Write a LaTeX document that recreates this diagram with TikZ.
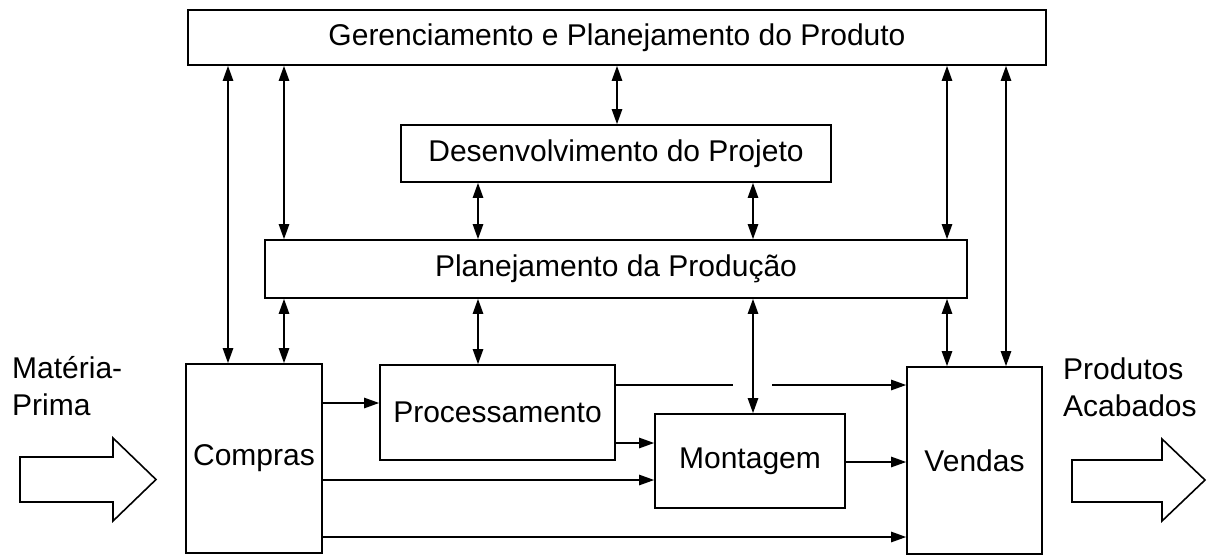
\documentclass[tikz,border=0pt]{standalone}
\usepackage{fontspec}
\setmainfont{Liberation Sans}
\usetikzlibrary{arrows.meta}
\begin{document}
\begin{tikzpicture}[x=1pt,y=-1pt,
  box/.style={draw,line width=1.8pt,inner sep=0pt,font=\fontsize{30}{37}\selectfont},
  link/.style={line width=1.2pt},
  dbl/.style={link,{Triangle[length=15pt,width=10.5pt]}-{Triangle[length=15pt,width=10.5pt]}},
  fwd/.style={link,-{Triangle[length=15pt,width=10.5pt]}},
  lbl/.style={font=\fontsize{30}{37}\selectfont,align=left,inner sep=0pt,anchor=west},
  bigarrow/.style={draw,line width=1.6pt,line join=miter}]
\useasboundingbox (0,0) rectangle (1207,555);
% boxes
\node[box,minimum width=858pt,minimum height=55pt] (top) at (617,37.5) {Gerenciamento e Planejamento do Produto};
\node[box,minimum width=430pt,minimum height=57pt] (des) at (616,153.5) {Desenvolvimento do Projeto};
\node[box,minimum width=702pt,minimum height=58pt] (plan) at (616,269) {Planejamento da Produção};
\node[box,minimum width=136pt,minimum height=189pt] (comp) at (254,458.5) {Compras};
\node[box,minimum width=235pt,minimum height=95pt] (proc) at (497.5,412.5) {Processamento};
\node[box,minimum width=190pt,minimum height=94pt] (mont) at (750,461) {Montagem};
\node[box,minimum width=135pt,minimum height=187pt] (vend) at (974.5,460.5) {Vendas};
% labels
\node[lbl] (mp) at (12,386) {Matéria-\\Prima};
\node[lbl] (pa) at (1063,387) {Produtos\\Acabados};
% x positions of vertical links
\coordinate (c1) at (228,0);
\coordinate (c2) at (284,0);
\coordinate (c3) at (617,0);
\coordinate (c4) at (478,0);
\coordinate (c5) at (753,0);
\coordinate (c7) at (947,0);
\coordinate (c8) at (1006,0);
% y positions of horizontal links
\coordinate (h1) at (0,403);
\coordinate (h2) at (0,443);
\coordinate (h3) at (0,480);
\coordinate (h4) at (0,385);
\coordinate (h5) at (0,462);
\coordinate (h6) at (0,537);
\coordinate (gapL) at (733,385);
\coordinate (gapR) at (772,385);
% vertical links
\draw[dbl] (top.south -| c1) -- (comp.north -| c1);
\draw[dbl] (top.south -| c2) -- (plan.north -| c2);
\draw[dbl] (plan.south -| c2) -- (comp.north -| c2);
\draw[dbl] (top.south -| c3) -- (des.north -| c3);
\draw[dbl] (des.south -| c4) -- (plan.north -| c4);
\draw[dbl] (des.south -| c5) -- (plan.north -| c5);
\draw[dbl] (plan.south -| c4) -- (proc.north -| c4);
\draw[dbl] (plan.south -| c5) -- (mont.north -| c5);
\draw[dbl] (top.south -| c7) -- (plan.north -| c7);
\draw[dbl] (plan.south -| c7) -- (vend.north -| c7);
\draw[dbl] (top.south -| c8) -- (vend.north -| c8);
% horizontal links
\draw[fwd] (comp.east |- h1) -- (proc.west |- h1);
\draw[fwd] (proc.east |- h2) -- (mont.west |- h2);
\draw[fwd] (comp.east |- h3) -- (mont.west |- h3);
\draw[link] (proc.east |- h4) -- (gapL);
\draw[fwd] (gapR) -- (vend.west |- h4);
\draw[fwd] (mont.east |- h5) -- (vend.west |- h5);
\draw[fwd] (comp.east |- h6) -- (vend.west |- h6);
% big arrows
\draw[bigarrow] (20,457) -- (113,457) -- (113,438) -- (156,479.5) -- (113,521) -- (113,502) -- (20,502) -- cycle;
\draw[bigarrow] (1072,460) -- (1162,460) -- (1162,439) -- (1205,480) -- (1162,521) -- (1162,502) -- (1072,502) -- cycle;
\end{tikzpicture}
\end{document}
